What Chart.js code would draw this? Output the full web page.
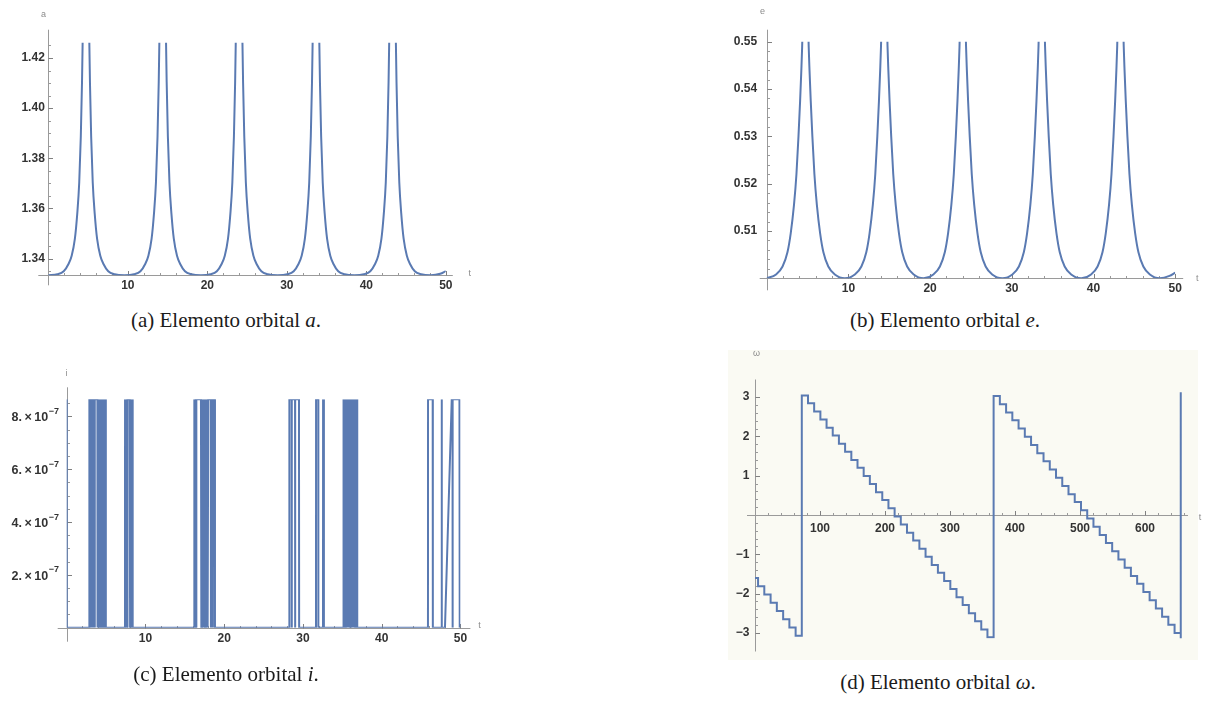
<!DOCTYPE html>
<html>
<head>
<meta charset="utf-8">
<script src="https://cdn.jsdelivr.net/npm/chart.js@4.4.0/dist/chart.umd.min.js"></script>
<style>
    html, body { margin: 0; padding: 0; background: #fff; }
    body { width: 1206px; height: 705px; position: relative; overflow: hidden; }
    canvas { position: absolute; }
    .cap {
        position: absolute;
        font-family: "Liberation Serif", "Times New Roman", serif;
        font-size: 21px;
        line-height: 21px;
        color: #1b1b1b;
        white-space: nowrap;
        transform: translateX(-50%);
    }
    .cap i { font-style: italic; }
    #paperD { position: absolute; left: 728px; top: 350px; width: 470px; height: 310px; background: #fafaf3; }
</style>
</head>
<body>
<div id="paperD"></div>
<canvas id="chartA" width="600" height="300" style="left:0;top:0"></canvas>
<canvas id="chartB" width="606" height="300" style="left:600px;top:0"></canvas>
<canvas id="chartC" width="600" height="330" style="left:0;top:340px"></canvas>
<canvas id="chartD" width="606" height="330" style="left:600px;top:340px"></canvas>
<div class="cap" style="left:226px;top:310px">(a) Elemento orbital <i>a</i>.</div>
<div class="cap" style="left:945px;top:310px">(b) Elemento orbital <i>e</i>.</div>
<div class="cap" style="left:226px;top:664px">(c) Elemento orbital <i>i</i>.</div>
<div class="cap" style="left:938px;top:672px">(d) Elemento orbital <i>ω</i>.</div>
<script>
// shared time samples for a(t) and e(t)
const tAE = [
    0, 1.14, 1.94, 2.54, 2.94, 3.34, 3.64, 3.89, 4.09, 4.24, 4.34, 4.44, 5.04, 5.14, 5.24, 5.39, 5.59, 5.84, 6.14, 6.54, 6.94, 7.54, 8.34,
    9.57, 10.79, 11.59, 12.19, 12.59, 12.99, 13.29, 13.54, 13.74, 13.89, 13.99, 14.09, 14.69, 14.79, 14.89, 15.04, 15.24, 15.49, 15.79, 16.19, 16.59, 17.19, 17.99,
    19.2, 20.4, 21.2, 21.8, 22.2, 22.6, 22.9, 23.15, 23.35, 23.5, 23.6, 23.7, 24.3, 24.4, 24.5, 24.65, 24.85, 25.1, 25.4, 25.8, 26.2, 26.8, 27.6,
    28.85, 30.07, 30.87, 31.47, 31.87, 32.27, 32.57, 32.82, 33.02, 33.17, 33.27, 33.37, 33.97, 34.07, 34.17, 34.32, 34.52, 34.77, 35.07, 35.47, 35.87, 36.47, 37.27,
    38.5, 39.7, 40.5, 41.1, 41.5, 41.9, 42.2, 42.45, 42.65, 42.8, 42.9, 43.0, 43.6, 43.7, 43.8, 43.95, 44.15, 44.4, 44.7, 45.1, 45.5, 46.1, 46.9,
    48.1, 49.3, 50
];
const aValues = [
    1.3333, 1.3337, 1.3349, 1.3378, 1.3411, 1.3478, 1.3578, 1.3703, 1.3888, 1.4103, 1.4303, 1.4583, 1.4583, 1.4303, 1.4103, 1.3888, 1.3703, 1.3578, 1.3478, 1.3411, 1.3378, 1.3349, 1.3337,
    1.3333, 1.3337, 1.3349, 1.3378, 1.3411, 1.3478, 1.3578, 1.3703, 1.3888, 1.4103, 1.4303, 1.4583, 1.4583, 1.4303, 1.4103, 1.3888, 1.3703, 1.3578, 1.3478, 1.3411, 1.3378, 1.3349, 1.3337,
    1.3333, 1.3337, 1.3349, 1.3378, 1.3411, 1.3478, 1.3578, 1.3703, 1.3888, 1.4103, 1.4303, 1.4583, 1.4583, 1.4303, 1.4103, 1.3888, 1.3703, 1.3578, 1.3478, 1.3411, 1.3378, 1.3349, 1.3337,
    1.3333, 1.3337, 1.3349, 1.3378, 1.3411, 1.3478, 1.3578, 1.3703, 1.3888, 1.4103, 1.4303, 1.4583, 1.4583, 1.4303, 1.4103, 1.3888, 1.3703, 1.3578, 1.3478, 1.3411, 1.3378, 1.3349, 1.3337,
    1.3333, 1.3337, 1.3349, 1.3378, 1.3411, 1.3478, 1.3578, 1.3703, 1.3888, 1.4103, 1.4303, 1.4583, 1.4583, 1.4303, 1.4103, 1.3888, 1.3703, 1.3578, 1.3478, 1.3411, 1.3378, 1.3349, 1.3337,
    1.3333, 1.3339, 1.3350
];
const eValues = [
    0.5000, 0.5008, 0.5025, 0.5055, 0.5095, 0.5155, 0.5220, 0.5300, 0.5375, 0.5440, 0.5490, 0.5560, 0.5560, 0.5490, 0.5440, 0.5375, 0.5300, 0.5220, 0.5155, 0.5095, 0.5055, 0.5025, 0.5008,
    0.5000, 0.5008, 0.5025, 0.5055, 0.5095, 0.5155, 0.5220, 0.5300, 0.5375, 0.5440, 0.5490, 0.5560, 0.5560, 0.5490, 0.5440, 0.5375, 0.5300, 0.5220, 0.5155, 0.5095, 0.5055, 0.5025, 0.5008,
    0.5000, 0.5008, 0.5025, 0.5055, 0.5095, 0.5155, 0.5220, 0.5300, 0.5375, 0.5440, 0.5490, 0.5560, 0.5560, 0.5490, 0.5440, 0.5375, 0.5300, 0.5220, 0.5155, 0.5095, 0.5055, 0.5025, 0.5008,
    0.5000, 0.5008, 0.5025, 0.5055, 0.5095, 0.5155, 0.5220, 0.5300, 0.5375, 0.5440, 0.5490, 0.5560, 0.5560, 0.5490, 0.5440, 0.5375, 0.5300, 0.5220, 0.5155, 0.5095, 0.5055, 0.5025, 0.5008,
    0.5000, 0.5008, 0.5025, 0.5055, 0.5095, 0.5155, 0.5220, 0.5300, 0.5375, 0.5440, 0.5490, 0.5560, 0.5560, 0.5490, 0.5440, 0.5375, 0.5300, 0.5220, 0.5155, 0.5095, 0.5055, 0.5025, 0.5008,
    0.5000, 0.5005, 0.5012
];

// i(t), values in units of 1e-7; the series flips between 0 and the top plateau
const tI = [
    0, 0,
    2.87, 2.88, 3.1, 3.11, 3.12, 3.35, 3.36, 3.37, 3.55, 3.56, 3.57, 3.9, 3.92, 3.98, 4.04, 4.1, 4.16, 4.22, 4.28, 4.34, 4.4, 4.46, 4.52, 4.58, 4.64, 4.7, 4.76, 4.82, 4.88, 4.94, 4.98, 4.99,
    7.4, 7.41, 7.5, 7.6, 7.7, 7.72, 8.0, 8.05, 8.15, 8.25, 8.36, 8.38,
    16.2, 16.21, 16.3, 16.4, 16.45, 16.46, 16.47, 17.05, 17.1, 17.18, 17.26, 17.34, 17.42, 17.5, 17.58, 17.66, 17.74, 17.82, 17.9, 17.98, 18.3, 18.31, 18.32, 18.55, 18.56, 18.57, 18.8, 18.83,
    28.27, 28.28, 28.57, 28.58, 28.59, 29.0, 29.01, 29.02, 29.5, 29.52,
    31.66, 31.67, 31.95, 31.96, 32.55, 32.56, 32.66, 32.67,
    35.1, 35.12, 35.2, 35.28, 35.36, 35.44, 35.52, 35.6, 35.68, 35.76, 35.84, 35.92, 36.0, 36.08, 36.16, 36.24, 36.32, 36.4, 36.48, 36.56, 36.64, 36.72, 36.8, 36.88, 36.9,
    45.88, 45.89, 46.48, 46.5, 47.6, 47.61, 47.66, 48.04, 48.9, 49.0, 49.01, 49.02, 49.88, 49.9, 49.93, 50
];
const iValues = [
    8.65, 0,
    0, 8.65, 8.65, 0, 8.65, 8.65, 0, 8.65, 8.65, 0, 8.65, 8.65, 0, 8.65, 0, 8.65, 0, 8.65, 0, 8.65, 0, 8.65, 0, 8.65, 0, 8.65, 0, 8.65, 0, 8.65, 8.65, 0,
    0, 8.65, 0, 8.65, 0, 8.65, 8.65, 0, 8.65, 0, 8.65, 0,
    0, 8.65, 0, 8.65, 8.65, 0, 8.65, 8.65, 0, 8.65, 0, 8.65, 0, 8.65, 0, 8.65, 0, 8.65, 0, 8.65, 8.65, 0, 8.65, 8.65, 0, 8.65, 8.65, 0,
    0, 8.65, 8.65, 0, 8.65, 8.65, 0, 8.65, 8.65, 0,
    0, 8.65, 8.65, 0, 0, 8.65, 8.65, 0,
    0, 8.65, 0, 8.65, 0, 8.65, 0, 8.65, 0, 8.65, 0, 8.65, 0, 8.65, 0, 8.65, 0, 8.65, 0, 8.65, 0, 8.65, 0, 8.65, 0,
    0, 8.65, 8.65, 0, 0, 8.65, 0, 0, 8.65, 8.65, 0, 8.65, 8.65, 0, 8.65, 8.65
];

// omega(t): start time of each flat stretch and its level (rad)
const tOmega = [
    0, 4.7, 14.3, 24.0, 33.6, 43.3, 52.9, 62.5,
    72.0, 81.5, 91.0, 100.6, 110.1, 119.6, 129.1, 138.6, 148.2, 157.7, 167.2, 176.7, 186.2, 195.8, 205.3, 214.8,
    224.3, 233.8, 243.4, 252.9, 262.4, 271.9, 281.4, 291.0, 300.5, 310.0, 319.5, 329.0, 338.6, 348.1, 357.6,
    367.1, 376.7, 386.3, 395.9, 405.5, 415.1, 424.7, 434.3, 443.9, 453.5, 463.1, 472.7, 482.3, 491.9, 501.5,
    511.1, 520.7, 530.3, 539.9, 549.5, 559.1, 568.7, 578.3, 587.9, 597.5, 607.1, 616.7, 626.3, 635.9, 645.5,
    655.0, 655.0
];
const omegaValues = [
    -1.60, -1.81, -2.02, -2.23, -2.44, -2.65, -2.86, -3.07,
    3.04, 2.84, 2.63, 2.43, 2.22, 2.02, 1.81, 1.61, 1.40, 1.20, 0.99, 0.79, 0.58, 0.38, 0.17, -0.04,
    -0.24, -0.45, -0.65, -0.86, -1.06, -1.27, -1.47, -1.68, -1.88, -2.09, -2.29, -2.50, -2.70, -2.91, -3.11,
    3.03, 2.82, 2.61, 2.41, 2.20, 1.99, 1.78, 1.57, 1.37, 1.16, 0.95, 0.74, 0.53, 0.33, 0.12,
    -0.09, -0.30, -0.51, -0.71, -0.92, -1.13, -1.34, -1.55, -1.75, -1.96, -2.17, -2.38, -2.59, -2.79, -3.00,
    -3.14, 3.12
];

const tTicks = [10, 20, 30, 40, 50];
const aTicks = [1.34, 1.36, 1.38, 1.40, 1.42];
const eTicks = [0.51, 0.52, 0.53, 0.54, 0.55];
const iTicks = [2, 4, 6, 8];
const tOmegaTicks = [100, 200, 300, 400, 500, 600];
const omegaTicks = [-3, -2, -1, 1, 2, 3];

const lineColor = "#5a7ab2";
const axisColor = "#9a9a9a";
const labelColor = "#333333";
const fontStack = "'Liberation Sans', 'DejaVu Sans', Arial, sans-serif";
const labelFont = { family: fontStack, size: 12, weight: "bold" };

const toPoints = (xs, ys) => xs.map((x, k) => ({ x, y: ys[k] }));

// Mathematica-like axes: lines through the origin, inward major/minor ticks, axis names
const mmaAxes = {
    id: "mmaAxes",
    beforeDatasetsDraw(chart, args, opts) {
        const { ctx, chartArea: ca, scales } = chart;
        const sx = scales.x;
        const sy = scales.y;
        const ox = Math.round(sx.getPixelForValue(opts.originX)) + 0.5;
        const oy = Math.round(sy.getPixelForValue(opts.originY)) + 0.5;
        const ext = opts.ext;

        ctx.save();
        ctx.strokeStyle = axisColor;
        ctx.lineWidth = 1;
        ctx.beginPath();
        ctx.moveTo(ca.left - ext.left, oy);
        ctx.lineTo(ca.right + ext.right, oy);
        ctx.moveTo(ox, ca.top - ext.top);
        ctx.lineTo(ox, ca.bottom + ext.bottom);

        const minorValues = (scale, step) => {
            const out = [];
            for (let k = Math.ceil(scale.min / step - 1e-9); k * step <= scale.max + 1e-12; k++) {
                out.push(k * step);
            }
            return out;
        };
        minorValues(sx, opts.xMinor).forEach((v) => {
            const px = Math.round(sx.getPixelForValue(v)) + 0.5;
            ctx.moveTo(px, oy);
            ctx.lineTo(px, oy - 2.5);
        });
        minorValues(sy, opts.yMinor).forEach((v) => {
            const py = Math.round(sy.getPixelForValue(v)) + 0.5;
            ctx.moveTo(ox, py);
            ctx.lineTo(ox + 2.5, py);
        });
        ctx.stroke();

        ctx.beginPath();
        ctx.strokeStyle = "#808080";
        sx.ticks.forEach((t) => {
            const px = Math.round(sx.getPixelForValue(t.value)) + 0.5;
            ctx.moveTo(px, oy);
            ctx.lineTo(px, oy - 4.5);
        });
        sy.ticks.forEach((t) => {
            const py = Math.round(sy.getPixelForValue(t.value)) + 0.5;
            ctx.moveTo(ox, py);
            ctx.lineTo(ox + 4.5, py);
        });
        ctx.stroke();

        // "n.×10" with a raised exponent, right-aligned against the y axis
        if (opts.sciExp) {
            ctx.fillStyle = labelColor;
            ctx.textAlign = "right";
            ctx.textBaseline = "middle";
            sy.ticks.forEach((t) => {
                const py = sy.getPixelForValue(t.value);
                const right = ox - opts.sciPad;
                ctx.font = "bold 9px " + fontStack;
                const exp = "\u2212" + opts.sciExp;
                const ew = ctx.measureText(exp).width;
                ctx.fillText(exp, right, py - 5);
                ctx.font = "bold 12.5px " + fontStack;
                ctx.fillText(t.value + ".\u2009\u00d7\u200910", right - ew - 0.5, py + 1.5);
            });
        }

        ctx.fillStyle = "#8c8c8c";
        ctx.font = "9px " + fontStack;
        ctx.textAlign = "center";
        ctx.textBaseline = "middle";
        ctx.fillText(opts.yName, ox + opts.yNameAt[0], ca.top - ext.top + opts.yNameAt[1]);
        ctx.fillText(opts.xName, ca.right + ext.right + opts.xNameAt[0], oy + opts.xNameAt[1]);
        ctx.restore();
    }
};

const fixedTicks = (values) => (scale) => {
    scale.ticks = values.map((value) => ({ value }));
};

// the y axis box gets a fixed width and the x axis box a fixed height,
// so the padding alone decides where the plot area sits on the canvas
const makeChart = (id, dataset, cfg) => {
    const canvas = document.getElementById(id);
    return new Chart(canvas, {
        type: "line",
        data: { datasets: [Object.assign({
            borderColor: lineColor,
            borderWidth: 2,
            pointRadius: 0,
            fill: false
        }, dataset)] },
        options: {
            responsive: false,
            animation: false,
            events: [],
            layout: { padding: cfg.padding },
            plugins: {
                legend: { display: false },
                tooltip: { enabled: false },
                mmaAxes: cfg.axes
            },
            scales: {
                x: {
                    type: "linear",
                    position: cfg.xPosition || "bottom",
                    min: cfg.xRange[0],
                    max: cfg.xRange[1],
                    grid: { display: false, drawTicks: false },
                    border: { display: false },
                    afterFit: (s) => { s.height = 20; },
                    afterBuildTicks: fixedTicks(cfg.xTicks),
                    ticks: {
                        autoSkip: false,
                        maxRotation: 0,
                        padding: cfg.xPad,
                        color: labelColor,
                        font: labelFont,
                        callback: (v) => String(v)
                    }
                },
                y: {
                    type: "linear",
                    position: "left",
                    min: cfg.yRange[0],
                    max: cfg.yRange[1],
                    grid: { display: false, drawTicks: false },
                    border: { display: false },
                    afterFit: (s) => { s.width = cfg.yBox; },
                    afterBuildTicks: fixedTicks(cfg.yTicks),
                    ticks: {
                        autoSkip: false,
                        padding: cfg.yPad,
                        color: labelColor,
                        font: labelFont,
                        callback: cfg.yLabel
                    }
                }
            }
        },
        plugins: [mmaAxes]
    });
};

// (a) semi-major axis
makeChart("chartA", {
    data: toPoints(tAE, aValues),
    cubicInterpolationMode: "monotone"
}, {
    padding: { left: 3.3, right: 154.2, top: 42.7, bottom: 4.7 },
    yBox: 45,
    xRange: [0, 50], yRange: [1.3333, 1.4261],
    xTicks: tTicks, yTicks: aTicks,
    xPad: 3.5, yPad: 3.5,
    yLabel: (v) => v.toFixed(2),
    axes: { originX: 0, originY: 1.3333, ext: { left: 10, right: 7, top: 13, bottom: 10 },
        xMinor: 2, yMinor: 0.005, xName: "t", yName: "a", xNameAt: [17, -2], yNameAt: [-5, -15] }
});

// (b) eccentricity
makeChart("chartB", {
    data: toPoints(tAE, eValues),
    cubicInterpolationMode: "monotone"
}, {
    padding: { left: 106.7, right: 30.8, top: 41.7, bottom: 1.7 },
    yBox: 60,
    xRange: [0, 50], yRange: [0.5, 0.55],
    xTicks: tTicks, yTicks: eTicks,
    xPad: 3.5, yPad: 9.5,
    yLabel: (v) => v.toFixed(2),
    axes: { originX: 0, originY: 0.5, ext: { left: 7, right: 8, top: 12, bottom: 12 },
        xMinor: 2, yMinor: 0.002, xName: "t", yName: "e", xNameAt: [14, 0], yNameAt: [-5, -18] }
});

// (c) inclination; the y labels are written by the axes plugin
makeChart("chartC", {
    data: toPoints(tI, iValues),
    tension: 0
}, {
    padding: { left: 2.7, right: 139.6, top: 59.3, bottom: 22.3 },
    yBox: 64,
    xRange: [0, 50], yRange: [0, 8.65],
    xTicks: tTicks, yTicks: iTicks,
    xPad: 3.5, yPad: 8,
    yLabel: () => "",
    axes: { originX: 0, originY: 0, ext: { left: 9, right: 10, top: 12, bottom: 14 },
        xMinor: 2, yMinor: 0.5, xName: "t", yName: "i", xNameAt: [9, -3], yNameAt: [-1, -14],
        sciExp: "7", sciPad: 8.5 }
});

// (d) argument of pericentre
makeChart("chartD", {
    data: toPoints(tOmega, omegaValues),
    stepped: "before"
}, {
    padding: { left: 115, right: 22, top: 51.5, bottom: 31.5 },
    yBox: 40,
    xPosition: { y: 0 },
    xRange: [0, 660], yRange: [-3.1416, 3.1416],
    xTicks: tOmegaTicks, yTicks: omegaTicks,
    xPad: 6, yPad: 5.5,
    yLabel: (v) => (v < 0 ? "\u2212" + Math.abs(v) : String(v)),
    axes: { originX: 0, originY: 0, ext: { left: 8, right: 4, top: 12, bottom: 13 },
        xMinor: 20, yMinor: 0.2, xName: "t", yName: "\u03c9", xNameAt: [12, 2], yNameAt: [1, -26] }
});
</script>
</body>
</html>
